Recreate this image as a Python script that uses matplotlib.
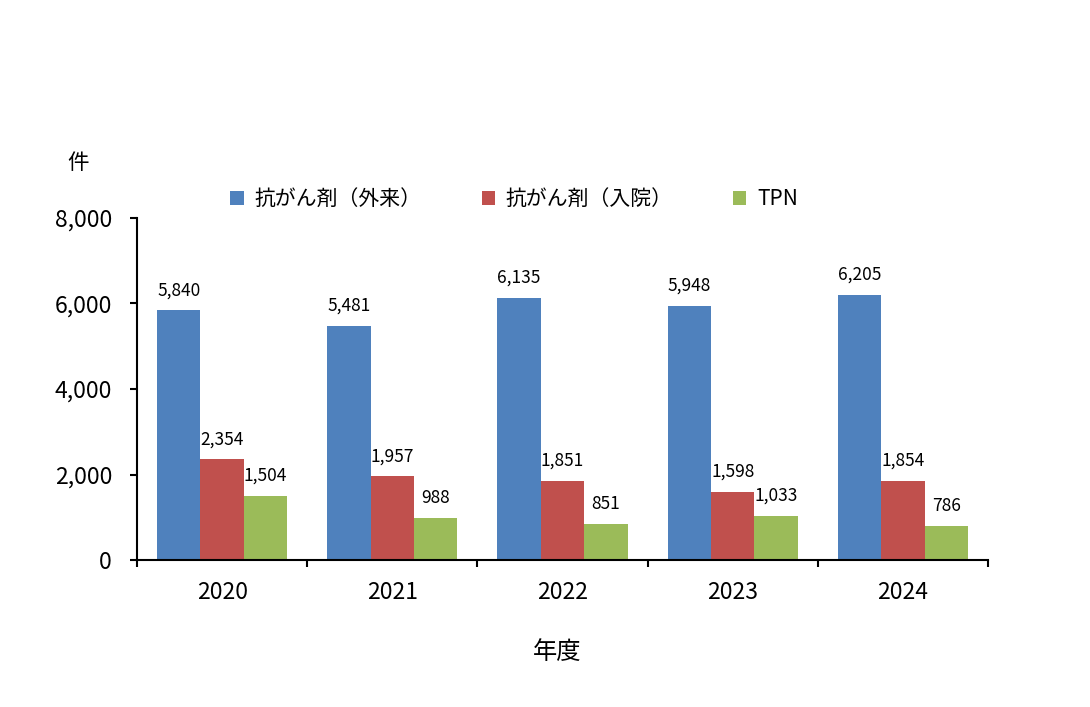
import numpy as np
import matplotlib
matplotlib.use("Agg")
import matplotlib.pyplot as plt

plt.rcParams['font.family'] = ['Noto Sans CJK JP', 'DejaVu Sans']

years = ['2020', '2021', '2022', '2023', '2024']
outpatient = [5840, 5481, 6135, 5948, 6205]
inpatient = [2354, 1957, 1851, 1598, 1854]
tpn = [1504, 988, 851, 1033, 786]
series_names = ['抗がん剤（外来）', '抗がん剤（入院）', 'TPN']
colors = ['#4F81BD', '#C0504D', '#9BBB59']

fig = plt.figure(figsize=(10.9, 7.07), dpi=100)
ax = fig.add_axes([0.1257, 0.2079, 0.9064 - 0.1257, 0.6917 - 0.2079])

x = np.arange(len(years))
w = 0.255
handles = []
for i, (vals, name, c) in enumerate(zip([outpatient, inpatient, tpn], series_names, colors)):
    bars = ax.bar(x + (i - 1) * w, vals, w, color=c, label=name)
    ax.bar_label(bars, labels=[f'{v:,}' for v in vals], padding=8, fontsize=12.5)
    handles.append(bars)

ax.set_xlim(-0.5, len(years) - 0.5)
ax.set_ylim(0, 8000)
ax.set_yticks([0, 2000, 4000, 6000, 8000])
ax.set_yticklabels([f'{v:,}' for v in [0, 2000, 4000, 6000, 8000]], fontsize=16.5)
ax.set_xticks(x)
ax.set_xticklabels(years, fontsize=16.5)
ax.set_xticks(np.arange(len(years) + 1) - 0.5, minor=True)
ax.tick_params(axis='x', which='major', length=0, pad=15)
ax.tick_params(axis='x', which='minor', length=5, width=1.5, direction='out')
ax.tick_params(axis='y', length=5, width=1.5, direction='out', pad=13)

for s in ['top', 'right']:
    ax.spines[s].set_visible(False)
for s in ['left', 'bottom']:
    ax.spines[s].set_linewidth(1.5)

fig.text(78 / 1090, 1 - 163 / 707, '件', fontsize=15.5, ha='center', va='center')
fig.text(557 / 1090, 1 - 652 / 707, '年度', fontsize=17.5, ha='center', va='center')

fig.legend(handles=handles, labels=series_names, loc='center', ncol=3,
           bbox_to_anchor=(514 / 1090, 1 - 199 / 707), frameon=False,
           fontsize=15, handlelength=0.65, handleheight=0.65, handletextpad=0.5,
           columnspacing=2.9)

fig.savefig('out.png', dpi=100)
